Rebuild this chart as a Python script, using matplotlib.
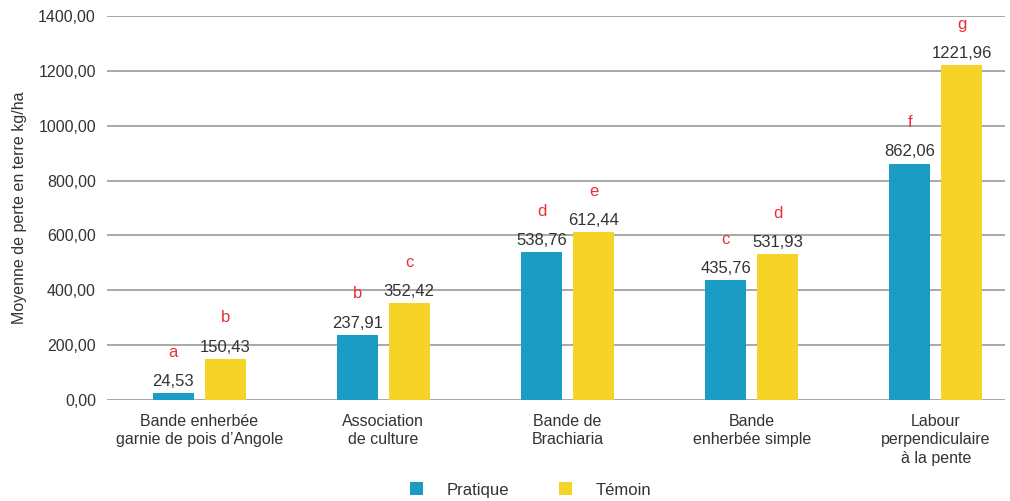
import matplotlib
matplotlib.use("Agg")
import matplotlib.pyplot as plt
import numpy as np
from matplotlib.ticker import FuncFormatter

plt.rcParams['font.family'] = ['Liberation Sans', 'DejaVu Sans']

categories = ["Bande enherbée\ngarnie de pois d\u2019Angole", "Association\nde culture",
              "Bande de\nBrachiaria", "Bande\nenherbée simple",
              "Labour\nperpendiculaire\nà la pente"]
pratique = [24.53, 237.91, 538.76, 435.76, 862.06]
temoin = [150.43, 352.42, 612.44, 531.93, 1221.96]
letters_pratique = ["a", "b", "d", "c", "f"]
letters_temoin = ["b", "c", "e", "d", "g"]
yticks = [0, 200, 400, 600, 800, 1000, 1200, 1400]

blue = "#1a9cc4"
yellow = "#f6d327"
red = "#e8303a"
txt = "#333333"

fig = plt.figure(figsize=(10.10, 5.01), dpi=100)
ax = fig.add_axes([0.106, 0.2016, 0.889, 0.7664])

x = np.arange(len(categories))
w = 0.223
off = 0.141
b1 = ax.bar(x - off, pratique, w, color=blue, label="Pratique", zorder=3)
b2 = ax.bar(x + off, temoin, w, color=yellow, label="Témoin", zorder=3)

fmt = lambda v: f"{v:.2f}".replace(".", ",")
for bars, vals, lets in [(b1, pratique, letters_pratique), (b2, temoin, letters_temoin)]:
    for r, v, l in zip(bars, vals, lets):
        cx = r.get_x() + r.get_width() / 2
        ax.annotate(fmt(v), (cx, v), xytext=(0, 3), textcoords="offset points",
                    ha="center", va="bottom", fontsize=12, color=txt, zorder=4)
        ax.annotate(l, (cx, v), xytext=(0, 24), textcoords="offset points",
                    ha="center", va="bottom", fontsize=12, color=red, zorder=4)

ax.set_ylim(0, 1400)
ax.set_xlim(-0.5, 4.375)
ax.set_yticks(yticks)
ax.yaxis.set_major_formatter(FuncFormatter(lambda v, p: fmt(v)))
ax.grid(axis="y", color="#999999", linewidth=1.2, zorder=0)
ax.set_axisbelow(True)
for s in ["top", "right", "left", "bottom"]:
    ax.spines[s].set_visible(False)
ax.tick_params(axis="both", length=0, labelsize=11.5, colors=txt)
ax.tick_params(axis="y", pad=8)
ax.tick_params(axis="x", pad=10)
ax.set_xticks(x)
ax.set_xticklabels(categories, fontsize=11.5, color=txt, linespacing=1.3)
ax.set_ylabel("Moyenne de perte en terre kg/ha", fontsize=11.5, color=txt, labelpad=8)

fig.legend(handles=[b1, b2], labels=["Pratique", "Témoin"], loc="center",
           bbox_to_anchor=(0.525, 0.022), ncol=2, frameon=False, fontsize=12,
           handlelength=0.8, handleheight=0.8, columnspacing=3.0, handletextpad=1.4,
           labelcolor=txt)

fig.savefig("out.png", dpi=100)
